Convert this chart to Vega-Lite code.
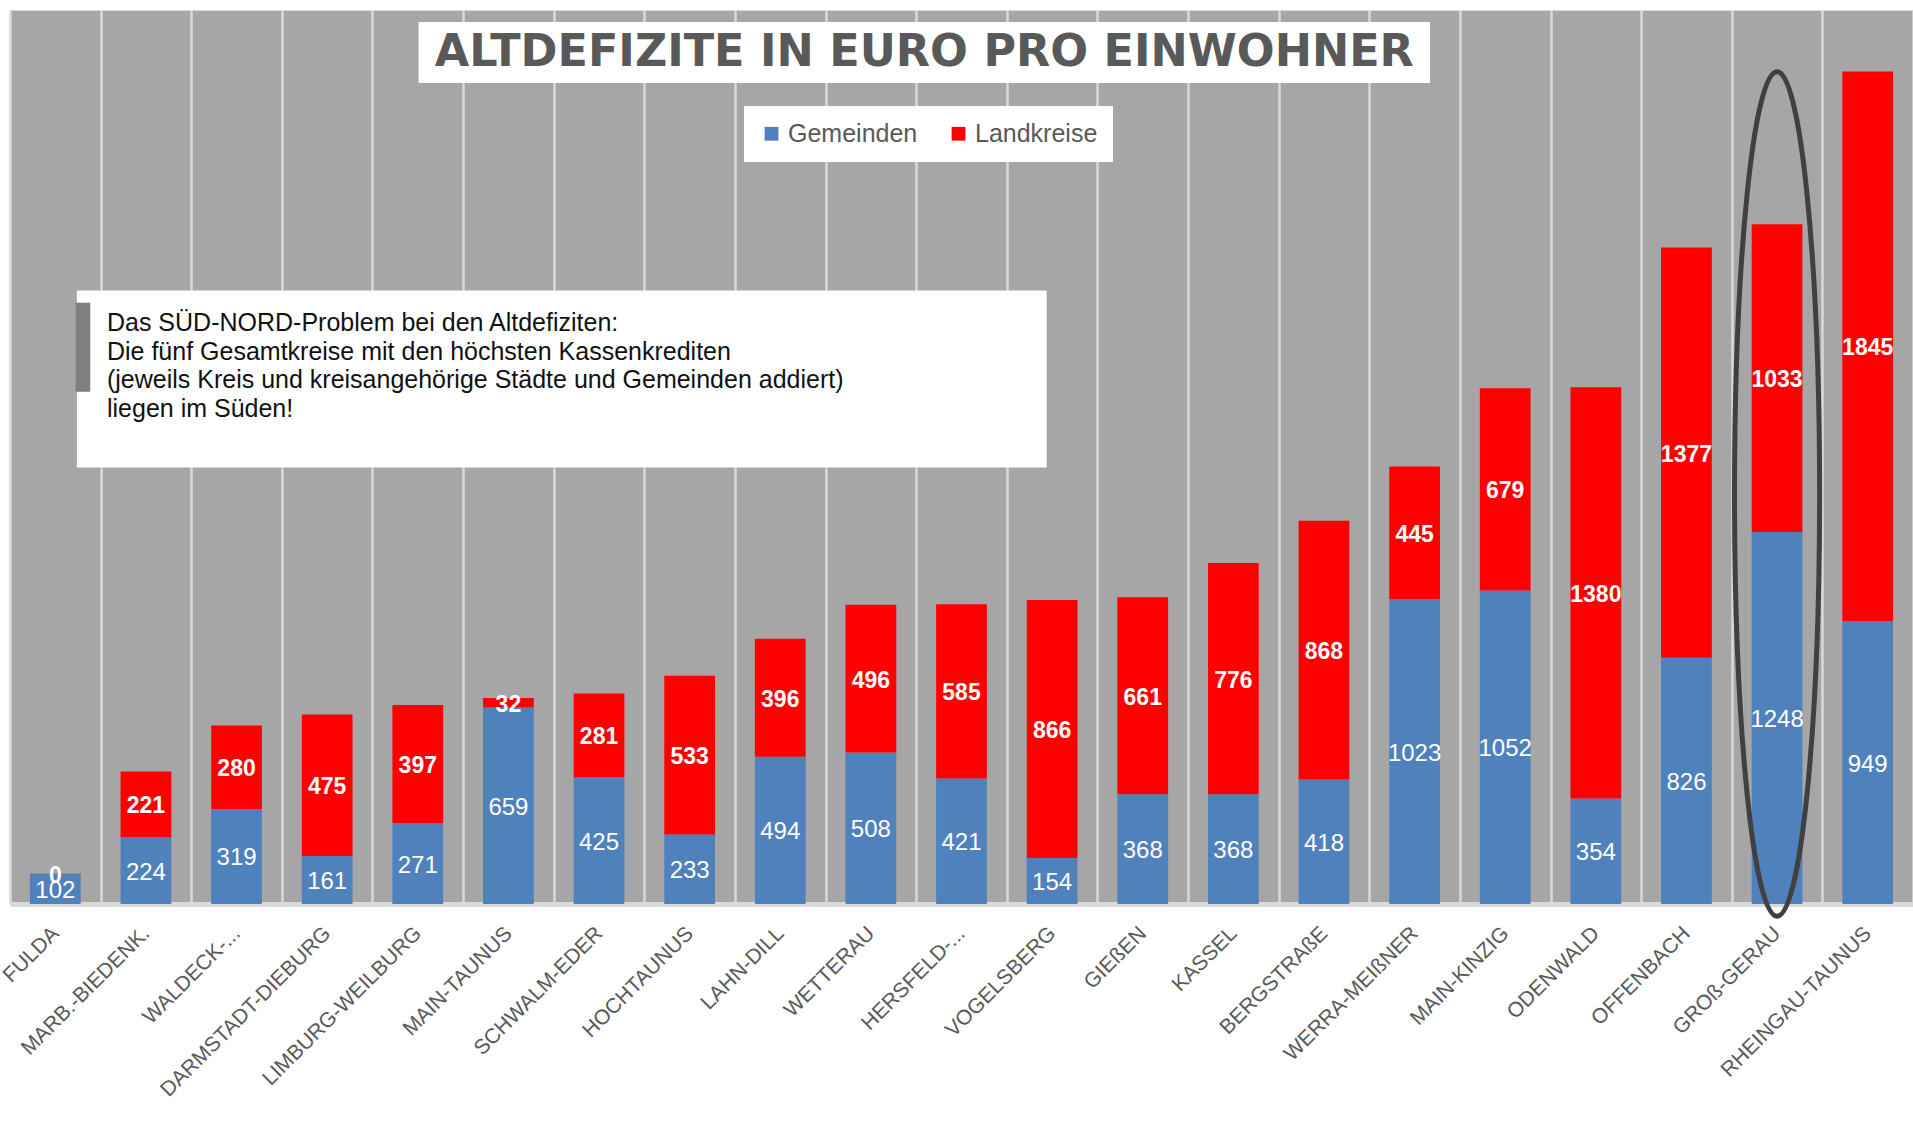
{
  "$schema": "https://vega.github.io/schema/vega-lite/v6.json",
  "width": 1903,
  "height": 894,
  "autosize": {"type": "none"},
  "padding": {"left": 10, "top": 10, "right": 0, "bottom": 217},
  "background": "white",
  "config": {
    "view": {"fill": "#a6a6a6", "stroke": "#d9d9d9", "strokeWidth": 1},
    "font": "Liberation Sans"
  },
  "data": {
    "values": [
      {"Kreis": "FULDA", "Art": "Gemeinden", "Wert": 102},
      {"Kreis": "FULDA", "Art": "Landkreise", "Wert": 0},
      {"Kreis": "MARB.-BIEDENK.", "Art": "Gemeinden", "Wert": 224},
      {"Kreis": "MARB.-BIEDENK.", "Art": "Landkreise", "Wert": 221},
      {"Kreis": "WALDECK-...", "Art": "Gemeinden", "Wert": 319},
      {"Kreis": "WALDECK-...", "Art": "Landkreise", "Wert": 280},
      {"Kreis": "DARMSTADT-DIEBURG", "Art": "Gemeinden", "Wert": 161},
      {"Kreis": "DARMSTADT-DIEBURG", "Art": "Landkreise", "Wert": 475},
      {"Kreis": "LIMBURG-WEILBURG", "Art": "Gemeinden", "Wert": 271},
      {"Kreis": "LIMBURG-WEILBURG", "Art": "Landkreise", "Wert": 397},
      {"Kreis": "MAIN-TAUNUS", "Art": "Gemeinden", "Wert": 659},
      {"Kreis": "MAIN-TAUNUS", "Art": "Landkreise", "Wert": 32},
      {"Kreis": "SCHWALM-EDER", "Art": "Gemeinden", "Wert": 425},
      {"Kreis": "SCHWALM-EDER", "Art": "Landkreise", "Wert": 281},
      {"Kreis": "HOCHTAUNUS", "Art": "Gemeinden", "Wert": 233},
      {"Kreis": "HOCHTAUNUS", "Art": "Landkreise", "Wert": 533},
      {"Kreis": "LAHN-DILL", "Art": "Gemeinden", "Wert": 494},
      {"Kreis": "LAHN-DILL", "Art": "Landkreise", "Wert": 396},
      {"Kreis": "WETTERAU", "Art": "Gemeinden", "Wert": 508},
      {"Kreis": "WETTERAU", "Art": "Landkreise", "Wert": 496},
      {"Kreis": "HERSFELD-...", "Art": "Gemeinden", "Wert": 421},
      {"Kreis": "HERSFELD-...", "Art": "Landkreise", "Wert": 585},
      {"Kreis": "VOGELSBERG", "Art": "Gemeinden", "Wert": 154},
      {"Kreis": "VOGELSBERG", "Art": "Landkreise", "Wert": 866},
      {"Kreis": "GIEßEN", "Art": "Gemeinden", "Wert": 368},
      {"Kreis": "GIEßEN", "Art": "Landkreise", "Wert": 661},
      {"Kreis": "KASSEL", "Art": "Gemeinden", "Wert": 368},
      {"Kreis": "KASSEL", "Art": "Landkreise", "Wert": 776},
      {"Kreis": "BERGSTRAßE", "Art": "Gemeinden", "Wert": 418},
      {"Kreis": "BERGSTRAßE", "Art": "Landkreise", "Wert": 868},
      {"Kreis": "WERRA-MEIßNER", "Art": "Gemeinden", "Wert": 1023},
      {"Kreis": "WERRA-MEIßNER", "Art": "Landkreise", "Wert": 445},
      {"Kreis": "MAIN-KINZIG", "Art": "Gemeinden", "Wert": 1052},
      {"Kreis": "MAIN-KINZIG", "Art": "Landkreise", "Wert": 679},
      {"Kreis": "ODENWALD", "Art": "Gemeinden", "Wert": 354},
      {"Kreis": "ODENWALD", "Art": "Landkreise", "Wert": 1380},
      {"Kreis": "OFFENBACH", "Art": "Gemeinden", "Wert": 826},
      {"Kreis": "OFFENBACH", "Art": "Landkreise", "Wert": 1377},
      {"Kreis": "GROß-GERAU", "Art": "Gemeinden", "Wert": 1248},
      {"Kreis": "GROß-GERAU", "Art": "Landkreise", "Wert": 1033},
      {"Kreis": "RHEINGAU-TAUNUS", "Art": "Gemeinden", "Wert": 949},
      {"Kreis": "RHEINGAU-TAUNUS", "Art": "Landkreise", "Wert": 1845}
    ]
  },
  "resolve": {"scale": {"x": "independent"}},
  "layer": [
    {
      "layer": [
        {
          "mark": {"type": "bar", "width": {"band": 0.56}},
          "encoding": {
            "x": {
              "field": "Kreis", "type": "nominal", "sort": null,
              "scale": {"paddingInner": 0, "paddingOuter": 0},
              "axis": {
                "title": null, "grid": true, "tickBand": "extent",
                "gridColor": "#d9d9d9", "gridWidth": 2.5, "gridOpacity": 1,
                "domainColor": "#d9d9d9", "domainWidth": 5,
                "ticks": false, "labelAngle": -45, "labelAlign": "right", "labelBaseline": "middle",
                "labelFont": "Liberation Sans", "labelFontSize": 21, "labelColor": "#595959",
                "labelPadding": 26, "labelLimit": 400, "labelOverlap": false
              }
            },
            "y": {
              "field": "Wert", "type": "quantitative", "stack": "zero",
              "scale": {"domain": [0, 3000], "nice": false}, "axis": null
            },
            "color": {
              "field": "Art", "type": "nominal",
              "scale": {"domain": ["Gemeinden", "Landkreise"], "range": ["#4f81bd", "#ff0000"]},
              "legend": {
                "title": null, "orient": "none", "legendX": 734, "legendY": 96,
                "direction": "horizontal", "fillColor": "white", "padding": 15,
                "symbolType": "square", "symbolSize": 190, "symbolStrokeWidth": 0,
                "labelFont": "Liberation Sans", "labelFontSize": 25, "labelColor": "#595959",
                "labelOffset": 4, "columnPadding": 28
              }
            },
            "order": {"field": "Art", "sort": "ascending"}
          }
        },
        {
          "transform": [
            {"stack": "Wert", "groupby": ["Kreis"], "sort": [{"field": "Art", "order": "ascending"}], "as": ["w0", "w1"]},
            {"calculate": "(datum.w0 + datum.w1) / 2", "as": "mid"},
            {"filter": "datum.Art === 'Gemeinden'"}
          ],
          "mark": {"type": "text", "color": "white", "fontSize": 24, "font": "Liberation Sans", "baseline": "middle", "dy": 2},
          "encoding": {
            "x": {"field": "Kreis", "type": "nominal", "sort": null},
            "y": {"field": "mid", "type": "quantitative", "scale": {"domain": [0, 3000], "nice": false}, "axis": null},
            "text": {"field": "Wert", "type": "quantitative", "format": "d"}
          }
        },
        {
          "transform": [
            {"stack": "Wert", "groupby": ["Kreis"], "sort": [{"field": "Art", "order": "ascending"}], "as": ["w0", "w1"]},
            {"calculate": "(datum.w0 + datum.w1) / 2", "as": "mid"},
            {"filter": "datum.Art === 'Landkreise'"}
          ],
          "mark": {"type": "text", "color": "white", "fontSize": 23, "fontWeight": "bold", "font": "Liberation Sans", "baseline": "middle", "dy": 2},
          "encoding": {
            "x": {"field": "Kreis", "type": "nominal", "sort": null},
            "y": {"field": "mid", "type": "quantitative", "scale": {"domain": [0, 3000], "nice": false}, "axis": null},
            "text": {"field": "Wert", "type": "quantitative", "format": "d"}
          }
        }
      ]
    },
    {
      "data": {"values": [{}]},
      "layer": [
        {
          "mark": {"type": "rect", "color": "white", "opacity": 1},
          "encoding": {
            "x": {"datum": 4.508, "type": "quantitative", "scale": {"domain": [0, 21], "nice": false, "zero": false}, "axis": null},
            "x2": {"datum": 15.67},
            "y": {"datum": 2960, "type": "quantitative", "scale": {"domain": [0, 3000], "nice": false}, "axis": null},
            "y2": {"datum": 2755}
          }
        },
        {
          "mark": {"type": "rect", "color": "white", "opacity": 1},
          "encoding": {
            "x": {"datum": 0.738, "type": "quantitative", "scale": {"domain": [0, 21], "nice": false, "zero": false}, "axis": null},
            "x2": {"datum": 11.44},
            "y": {"datum": 2059, "type": "quantitative", "scale": {"domain": [0, 3000], "nice": false}, "axis": null},
            "y2": {"datum": 1465}
          }
        },
        {
          "mark": {"type": "rect", "color": "#7f7f7f", "opacity": 1},
          "encoding": {
            "x": {"datum": 0.724, "type": "quantitative", "scale": {"domain": [0, 21], "nice": false, "zero": false}, "axis": null},
            "x2": {"datum": 0.886},
            "y": {"datum": 2018, "type": "quantitative", "scale": {"domain": [0, 3000], "nice": false}, "axis": null},
            "y2": {"datum": 1719}
          }
        },
        {
          "mark": {"type": "text", "text": "ALTDEFIZITE IN EURO PRO EINWOHNER", "font": "DejaVu Sans", "fontWeight": "bold", "fontSize": 44.5, "color": "#595959", "align": "center", "baseline": "middle"},
          "encoding": {
            "x": {"datum": 10.09, "type": "quantitative", "scale": {"domain": [0, 21], "nice": false, "zero": false}, "axis": null},
            "y": {"datum": 2857, "type": "quantitative", "scale": {"domain": [0, 3000], "nice": false}, "axis": null}
          }
        },
        {
          "mark": {
            "type": "text",
            "text": ["Das SÜD-NORD-Problem bei den Altdefiziten:", "Die fünf Gesamtkreise mit den höchsten Kassenkrediten", "(jeweils Kreis und kreisangehörige Städte und Gemeinden addiert)", "liegen im Süden!"],
            "font": "Liberation Sans", "fontSize": 25, "lineHeight": 28.5, "color": "#111111", "align": "left", "baseline": "alphabetic"
          },
          "encoding": {
            "x": {"datum": 1.07, "type": "quantitative", "scale": {"domain": [0, 21], "nice": false, "zero": false}, "axis": null},
            "y": {"datum": 1922, "type": "quantitative", "scale": {"domain": [0, 3000], "nice": false}, "axis": null}
          }
        },
        {
          "mark": {
            "type": "point",
            "shape": "M 0 -1 A 0.1008 1 0 1 1 0 1 A 0.1008 1 0 1 1 0 -1 Z",
            "size": 713000, "filled": false, "stroke": "#404040", "strokeWidth": 5, "opacity": 1
          },
          "encoding": {
            "x": {"datum": 19.5, "type": "quantitative", "scale": {"domain": [0, 21], "nice": false, "zero": false}, "axis": null},
            "y": {"datum": 1376, "type": "quantitative", "scale": {"domain": [0, 3000], "nice": false}, "axis": null}
          }
        }
      ]
    }
  ]
}
